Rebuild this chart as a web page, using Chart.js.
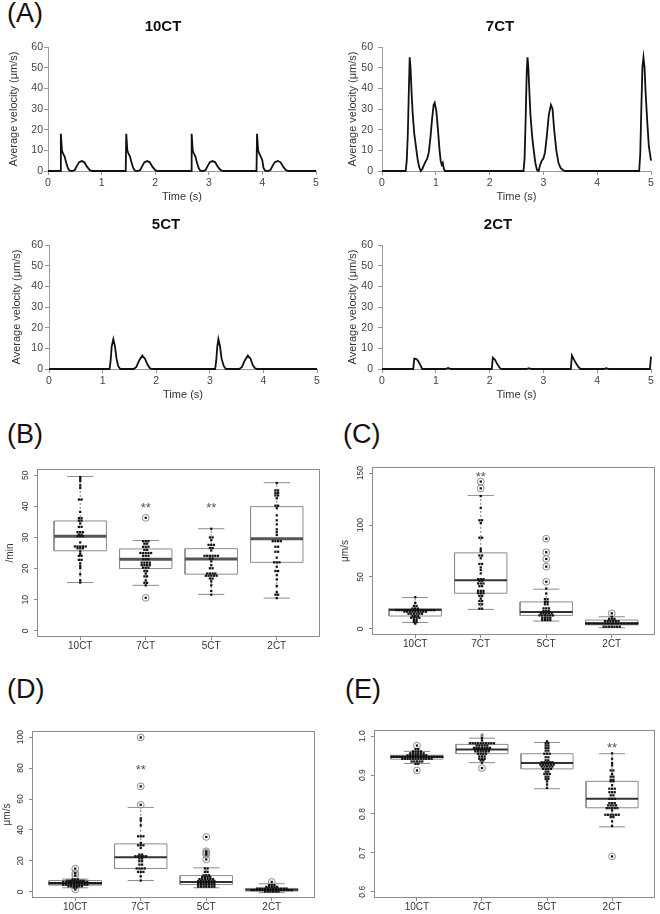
<!DOCTYPE html>
<html>
<head>
<meta charset="utf-8">
<script src="https://cdn.jsdelivr.net/npm/chart.js@4.4.1/dist/chart.umd.min.js"></script>
<style>
  body { margin: 0; background: #fff; width: 660px; height: 914px; position: relative; overflow: hidden; font-family: "Liberation Sans", Arial, sans-serif; }
  canvas { position: absolute; }
  .lab { position: absolute; font-size: 27px; line-height: 27px; color: #111; }
</style>
</head>
<body>
<div class="lab" style="left:7px;top:0px">(A)</div>
<div class="lab" style="left:7px;top:421px">(B)</div>
<div class="lab" style="left:343px;top:421px">(C)</div>
<div class="lab" style="left:7px;top:676px">(D)</div>
<div class="lab" style="left:345px;top:676px">(E)</div>

<canvas id="a1" width="330" height="195" style="left:0;top:10px"></canvas>
<canvas id="a2" width="330" height="195" style="left:330px;top:10px"></canvas>
<canvas id="a3" width="330" height="195" style="left:0;top:208px"></canvas>
<canvas id="a4" width="330" height="195" style="left:330px;top:208px"></canvas>
<canvas id="pb" width="330" height="195" style="left:0;top:460px"></canvas>
<canvas id="pc" width="330" height="193" style="left:330px;top:460px"></canvas>
<canvas id="pd" width="330" height="194" style="left:0;top:720px"></canvas>
<canvas id="pe" width="330" height="194" style="left:330px;top:720px"></canvas>

<script>
Chart.defaults.font.family = '"Liberation Sans", Arial, sans-serif';

// ---- (A) velocity traces: [time s, velocity um/s]
const trace10CT = [[0,0],[0.23,0],[0.24,18],[0.26,10],[0.28,8.5],[0.31,7],[0.34,4],[0.37,1.5],[0.40,0.2],[0.45,0],[0.50,0.5],[0.54,2.5],[0.58,4.3],[0.63,4.8],[0.68,4.2],[0.73,2],[0.78,0.4],[0.83,0],
  [1.45,0],[1.46,18],[1.48,10],[1.50,8.5],[1.53,7],[1.56,4],[1.59,1.5],[1.62,0.2],[1.67,0],[1.72,0.5],[1.76,2.5],[1.80,4.3],[1.85,4.8],[1.90,4.2],[1.95,2],[2.00,0.4],[2.05,0],
  [2.67,0],[2.68,18],[2.70,10],[2.72,8.5],[2.75,7],[2.78,4],[2.81,1.5],[2.84,0.2],[2.89,0],[2.94,0.5],[2.98,2.5],[3.02,4.3],[3.07,4.8],[3.12,4.2],[3.17,2],[3.22,0.4],[3.27,0],
  [3.89,0],[3.90,18],[3.92,10],[3.94,8.5],[3.97,7],[4.00,5],[4.02,1.5],[4.05,0.2],[4.10,0],[4.15,0.5],[4.19,2.5],[4.23,4.3],[4.29,4.9],[4.34,4.2],[4.39,2],[4.44,0.4],[4.49,0],[5,0]];
const trace7CT = [[0,0],[0.44,0],[0.46,5],[0.48,18],[0.50,40],[0.515,55],[0.53,50],[0.55,38],[0.57,28],[0.60,18],[0.63,12],[0.66,6],[0.69,2],[0.72,0],[0.75,1],[0.78,3],[0.81,4.5],[0.84,6],[0.87,9],[0.90,16],[0.93,25],[0.96,32],[0.98,33],[1.01,29],[1.04,20],[1.07,10],[1.09,5],[1.11,3],[1.13,4],[1.15,1],[1.17,0],
  [2.63,0],[2.65,6],[2.67,25],[2.69,48],[2.705,55],[2.72,50],[2.74,38],[2.76,27],[2.79,17],[2.82,10],[2.85,4],[2.88,0.5],[2.91,0],[2.94,3],[2.97,5],[3.00,6],[3.03,9],[3.06,16],[3.10,27],[3.14,32],[3.17,30],[3.20,20],[3.24,10],[3.28,4],[3.32,1.5],[3.36,0.5],[3.40,0],
  [4.78,0],[4.80,8],[4.82,30],[4.84,50],[4.86,55],[4.88,50],[4.90,38],[4.93,24],[4.96,12],[5.0,5]];
const trace5CT = [[0,0],[1.13,0],[1.15,4],[1.17,11],[1.20,14.5],[1.23,11],[1.26,5],[1.29,1.5],[1.33,0],[1.58,0],[1.63,1],[1.68,4],[1.74,6.5],[1.79,5],[1.84,2],[1.88,0.5],[1.92,0],
  [3.10,0],[3.12,4],[3.14,11],[3.16,14.5],[3.19,11],[3.22,5],[3.26,1.5],[3.30,0],[3.55,0],[3.60,1],[3.65,4],[3.71,6.5],[3.76,5],[3.80,2],[3.84,0.5],[3.88,0],[5,0]];
const trace2CT = [[0,0],[0.58,0],[0.60,5],[0.64,4.8],[0.67,4],[0.71,2],[0.75,0],[1.18,0],[1.23,0.5],[1.28,0],[2.04,0],[2.06,5.5],[2.10,4.5],[2.14,2.5],[2.19,0.5],[2.22,0],
  [2.68,0],[2.73,0.4],[2.78,0],[3.51,0],[3.53,6.5],[3.56,5],[3.60,3],[3.65,1],[3.69,0],[4.12,0],[4.17,0.4],[4.22,0],[4.98,0],[5.0,6]];

// ---- (B)-(E) groups
const groups = ['10CT', '7CT', '5CT', '2CT'];
const groupPos = [1, 2, 3, 4];

// box stats per group: [lower whisker, q1, median, q3, upper whisker]
const boxB = [[15.5,25.7,30.4,35.3,49.6],[14.6,20.0,23.0,26.3,29.0],[11.7,18.2,23.1,26.4,32.8],[10.5,22,29.6,39.9,47.6]];
const boxC = [[6.1,12.3,18,19.4,30.1],[18.7,34.3,46.9,73.2,128.6],[7.4,12.9,16.1,25.9,38.2],[1,3.8,5,8.4,11.6]];
const boxD = [[2.6,4.3,5.6,7.3,8.2],[7.3,15.1,22.4,31,54.6],[2.6,4.7,6.4,10.5,15.5],[-0.5,0.5,1.3,2.2,5.2]];
const boxE = [[0.93,0.941,0.947,0.951,0.961],[0.932,0.955,0.966,0.979,0.995],[0.865,0.916,0.931,0.955,0.984],[0.767,0.816,0.839,0.884,0.955]];

const outB = [[], [36.3, 10.6], [], []];
const outC = [[], [141.9, 135.4], [86.8, 73.8, 67.3, 59.9, 45.3], [14.9]];
const outD = [[15, 12, 10.5, 1.5], [99.8, 68.2, 56.3], [35.5, 26.2, 25.2, 24.1, 20.9], [6.4]];
const outE = [[0.976, 0.912], [0.918], [], [0.691]];

// individual observations per group: [value, number of dots at that value]
const dotsB = [
  [[49.4,1],[48.8,1],[48.1,1],[46.7,1],[45.9,1],[42.2,2],[38.2,1],[36.2,2],[35.4,2],[34.5,1],[33.4,2],[31.7,3],[30.9,2],[30.4,3],[28.4,1],[27.1,5],[26.5,3],[25.5,1],[24.7,1],[24.1,2],[22.8,2],[21.7,1],[20.8,1],[20.1,1],[18.2,1],[16.2,1],[15.5,1]],
  [[36.3,1],[28.8,3],[28,2],[27,3],[26,2],[25,5],[24.1,3],[23,3],[21.9,4],[21.1,4],[20.3,3],[19.2,2],[18.4,1],[17.5,2],[16.2,1],[15.4,2],[14.6,1],[10.6,1]],
  [[32.8,1],[30,2],[29.1,1],[27.6,3],[26.6,2],[25.8,1],[24.1,6],[23.2,2],[22.3,1],[21.1,1],[20.1,2],[18.4,4],[17.7,5],[16.8,2],[15.9,1],[14.6,1],[12.8,1],[11.6,1]],
  [[47.5,1],[45.1,2],[44.3,2],[43.5,2],[42.6,1],[40.2,2],[39.4,1],[37.1,1],[35.5,1],[34.2,1],[32.6,1],[31.7,1],[30.8,1],[28.8,4],[27,2],[25.4,2],[23.5,1],[22,3],[20.6,1],[19.2,2],[17.9,1],[16.5,1],[14.4,1],[12.4,1],[11.6,2],[10.5,1]]
];
const dotsC = [
  [[30.5,1],[25,1],[22,2],[19.5,3],[18,15],[16.5,9],[14.5,6],[12.3,3],[10.6,4],[8.4,2],[6.4,2],[5,1]],
  [[141.9,1],[135.4,1],[128,1],[116.6,1],[104.6,2],[102,1],[87.8,2],[77.1,1],[74.8,1],[70.6,2],[68,1],[62.5,2],[59.2,1],[56.7,1],[53.4,1],[47.9,3],[46.3,2],[43.7,3],[41.1,2],[36.6,3],[34.3,3],[31.7,2],[29.1,1],[26.8,2],[23.6,2],[19.4,2]],
  [[86.8,1],[73.8,1],[67.3,1],[59.9,1],[45.3,1],[38.8,1],[33.9,1],[28.5,2],[25.9,2],[23.6,2],[19.7,3],[17.1,3],[14.9,5],[12.9,6],[10.6,4],[8.4,4]],
  [[14.9,1],[11.6,1],[9.6,3],[7.4,6],[5.2,20],[2,7]]
];
const dotsD = [
  [[15,1],[12,1],[10.5,1],[8,3],[7.2,7],[6.4,10],[5.6,20],[4.6,10],[3.6,6],[2.8,2],[1.5,1]],
  [[99.8,1],[68.2,1],[56.3,1],[47.5,1],[46,1],[43,1],[35.9,3],[31.6,1],[30.1,3],[28.4,1],[24.1,2],[23,5],[21.5,2],[19.8,2],[17.6,2],[15.1,4],[12.9,3],[10.1,1],[7.3,1]],
  [[35.5,1],[26.2,1],[25.2,1],[24.1,1],[20.9,1],[15.1,2],[12.9,2],[10.7,3],[9.5,4],[8.2,6],[7,7],[5.8,7],[4.6,7],[3.3,7]],
  [[6.4,1],[4.3,3],[3.2,5],[2.1,12],[1.1,16],[0.2,6]]
];
const dotsE = [
  [[0.976,1],[0.967,2],[0.961,4],[0.956,6],[0.951,8],[0.947,20],[0.942,12],[0.935,5],[0.929,2],[0.912,1]],
  [[0.995,1],[0.989,1],[0.982,10],[0.976,5],[0.970,7],[0.966,6],[0.961,6],[0.955,4],[0.948,3],[0.942,3],[0.938,2],[0.932,1],[0.918,1]],
  [[0.987,1],[0.982,2],[0.976,2],[0.970,2],[0.963,2],[0.955,3],[0.946,2],[0.938,2],[0.933,5],[0.927,6],[0.922,5],[0.916,4],[0.909,2],[0.903,3],[0.896,2],[0.890,2],[0.884,1],[0.876,1],[0.867,1]],
  [[0.956,1],[0.942,1],[0.931,1],[0.925,1],[0.912,2],[0.903,1],[0.896,2],[0.888,2],[0.884,2],[0.874,1],[0.865,3],[0.856,3],[0.848,2],[0.839,3],[0.828,3],[0.822,4],[0.815,5],[0.809,1],[0.798,6],[0.792,2],[0.781,1],[0.769,1],[0.691,1]]
];

// significance marks and where they sit
const starsB = ['', '**', '**', ''];
const starYB = [null, 40.7, 40.7, null];
const starsC = ['', '**', '', ''];
const starYC = [null, 150, null, null];
const starsD = ['', '**', '', ''];
const starYD = [null, 81, null, null];
const starsE = ['', '*', '', '**'];
const starYE = [null, 1.005, null, 0.98];

const yTicksB = [0, 10, 20, 30, 40, 50];
const yTicksC = [0, 50, 100, 150];
const yTicksD = [0, 20, 40, 60, 80, 100];
const yTicksE = [0.6, 0.7, 0.8, 0.9, 1.0];
const yLabelsE = ['0.6', '0.7', '0.8', '0.9', '1.0'];

// ---------- (A) line charts
function traceChart(id, title, trace, o) {
  new Chart(document.getElementById(id), {
    type: 'scatter',
    data: {
      datasets: [{
        data: trace.map(p => ({x: p[0], y: p[1]})),
        showLine: true,
        borderColor: '#111',
        borderWidth: 1.8,
        pointRadius: 0,
        clip: 4
      }]
    },
    options: {
      responsive: false,
      animation: false,
      layout: {padding: {left: o.padL, right: o.padR, top: 0, bottom: 0}},
      plugins: {
        legend: {display: false},
        tooltip: {enabled: false},
        title: {display: true, text: title, color: '#111', font: {size: 15, weight: 'bold'}, padding: {top: 8, bottom: 11}}
      },
      scales: {
        x: {
          type: 'linear', min: 0, max: 5,
          ticks: {stepSize: 1, color: '#444', font: {size: 10.5}, padding: 2},
          grid: {drawOnChartArea: false, tickLength: 4, color: '#999'},
          border: {color: '#999'},
          title: {display: true, text: 'Time (s)', color: '#333', font: {size: 11}, padding: {top: 0, bottom: 1}},
          afterFit: s => { s.height = 34; }
        },
        y: {
          min: 0, max: 60,
          ticks: {stepSize: 10, color: '#444', font: {size: 10.5}, padding: o.tickPad},
          grid: {drawOnChartArea: false, tickLength: 4, color: '#999'},
          border: {color: '#999'},
          title: {display: true, text: 'Average velocity (μm/s)', color: '#333', font: {size: 11}, padding: {top: o.titlePad, bottom: 0}},
          afterFit: s => { s.width = o.yWidth; }
        }
      }
    }
  });
}

traceChart('a1', '10CT', trace10CT, {padL: 10, padR: 14, yWidth: 38, tickPad: 1, titlePad: -3});
traceChart('a2', '7CT', trace7CT, {padL: 19, padR: 9, yWidth: 33, tickPad: 5, titlePad: -3});
traceChart('a3', '5CT', trace5CT, {padL: 15, padR: 13, yWidth: 34, tickPad: 2, titlePad: -5});
traceChart('a4', '2CT', trace2CT, {padL: 15, padR: 9, yWidth: 37, tickPad: 5, titlePad: 1});

// ---------- (B)-(E) box plots with beeswarm dots
const framePlugin = {
  id: 'frame',
  beforeDatasetsDraw(chart) {
    const a = chart.chartArea, ctx = chart.ctx;
    ctx.save();
    ctx.strokeStyle = '#8c8c8c';
    ctx.lineWidth = 1;
    ctx.strokeRect(a.left + 0.5, a.top + 0.5, a.right - a.left - 1, a.bottom - a.top - 1);
    ctx.restore();
  }
};

const starPlugin = {
  id: 'stars',
  afterDatasetsDraw(chart, args, opts) {
    const {ctx, scales} = chart;
    ctx.save();
    ctx.fillStyle = '#555';
    ctx.font = '13px "Liberation Sans", Arial, sans-serif';
    ctx.textAlign = 'center';
    ctx.textBaseline = 'alphabetic';
    opts.marks.forEach((m, g) => {
      if (!m) return;
      ctx.fillText(m, scales.x.getPixelForValue(groupPos[g]), scales.y.getPixelForValue(opts.at[g]) + 7.5);
    });
    ctx.restore();
  }
};

function boxChart(id, c) {
  const dots = [], boxes = [], meds = [], whisk = [], staples = [], outs = [];
  c.dots.forEach((rows, g) => rows.forEach(([v, n]) => {
    for (let k = 0; k < n; k++) dots.push({x: groupPos[g] + (k - (n - 1) / 2) * 0.041, y: v});
  }));
  c.box.forEach(([lo, q1, md, q3, hi], g) => {
    const p = groupPos[g];
    boxes.push({x: p - 0.4, y: q1}, {x: p + 0.4, y: q1}, {x: p + 0.4, y: q3}, {x: p - 0.4, y: q3}, {x: p - 0.4, y: q1}, {x: p, y: null});
    meds.push({x: p - 0.4, y: md}, {x: p + 0.4, y: md}, {x: p, y: null});
    whisk.push({x: p, y: q3}, {x: p, y: hi}, {x: p, y: null}, {x: p, y: q1}, {x: p, y: lo}, {x: p, y: null});
    staples.push({x: p - 0.2, y: hi}, {x: p + 0.2, y: hi}, {x: p, y: null}, {x: p - 0.2, y: lo}, {x: p + 0.2, y: lo}, {x: p, y: null});
  });
  c.out.forEach((vals, g) => vals.forEach(v => outs.push({x: groupPos[g], y: v})));

  new Chart(document.getElementById(id), {
    type: 'scatter',
    data: {
      datasets: [
        {data: dots, pointStyle: 'rect', pointRadius: 1.6, backgroundColor: '#111', borderWidth: 0},
        {data: outs, pointStyle: 'circle', pointRadius: 3.4, borderColor: '#8a8a8a', borderWidth: 1, backgroundColor: 'rgba(0,0,0,0)'},
        {data: meds, showLine: true, pointRadius: 0, borderColor: c.medColor, borderWidth: c.medWidth, spanGaps: false},
        {data: boxes, showLine: true, pointRadius: 0, borderColor: '#8c8c8c', borderWidth: 1, spanGaps: false},
        {data: staples, showLine: true, pointRadius: 0, borderColor: '#8c8c8c', borderWidth: 1, spanGaps: false},
        {data: whisk, showLine: true, pointRadius: 0, borderColor: '#777', borderWidth: 1, borderDash: [2, 2], spanGaps: false}
      ]
    },
    options: {
      responsive: false,
      animation: false,
      layout: {padding: {left: 0, right: c.padR, top: c.padT, bottom: 0}},
      plugins: {
        legend: {display: false},
        tooltip: {enabled: false},
        stars: {marks: c.stars, at: c.starY}
      },
      scales: {
        x: {
          type: 'linear', min: 0.34, max: 4.66,
          afterBuildTicks: s => { s.ticks = groupPos.map(v => ({value: v})); },
          ticks: {callback: (v, i) => groups[i], color: '#333', font: {size: 10}, padding: 0, maxRotation: 0, autoSkip: false},
          grid: {drawOnChartArea: false, tickLength: 3, color: '#888'},
          border: {display: false},
          afterFit: s => { s.height = c.xHeight; }
        },
        y: {
          type: 'linear', min: c.yMin, max: c.yMax,
          afterBuildTicks: s => { s.ticks = c.yTicks.map(v => ({value: v})); },
          ticks: {
            callback: (v, i) => c.yLabels ? c.yLabels[i] : String(c.yTicks[i]),
            minRotation: 90, maxRotation: 90, crossAlign: 'center',
            color: '#333', font: {size: 8.5}, padding: c.tickPad
          },
          grid: {drawOnChartArea: false, tickLength: 3, color: '#888'},
          border: {display: false},
          title: {display: !!c.yTitle, text: c.yTitle || '', color: '#333', font: {size: 10}, padding: {top: c.titlePad, bottom: 0}},
          afterFit: s => { s.width = c.yWidth; }
        }
      }
    },
    plugins: [framePlugin, starPlugin]
  });
}

boxChart('pb', {dots: dotsB, box: boxB, out: outB, stars: starsB, starY: starYB, yTicks: yTicksB,
  yMin: -2, yMax: 52, yTitle: '/min', yWidth: 37, padR: 10, padT: 9, xHeight: 18, tickPad: 3.3, titlePad: 4, medColor: '#555', medWidth: 3});
boxChart('pc', {dots: dotsC, box: boxC, out: outC, stars: starsC, starY: starYC, yTicks: yTicksC,
  yMin: -6, yMax: 156, yTitle: 'μm/s', yWidth: 42, padR: 3, padT: 7, xHeight: 18, tickPad: 0.9, titlePad: 9, medColor: '#333', medWidth: 2});
boxChart('pd', {dots: dotsD, box: boxD, out: outD, stars: starsD, starY: starYD, yTicks: yTicksD,
  yMin: -4, yMax: 104, yTitle: 'μm/s', yWidth: 32, padR: 15, padT: 11, xHeight: 16, tickPad: 0.9, titlePad: 1, medColor: '#333', medWidth: 2});
boxChart('pe', {dots: dotsE, box: boxE, out: outE, stars: starsE, starY: starYE, yTicks: yTicksE, yLabels: yLabelsE,
  yMin: 0.584, yMax: 1.016, yTitle: '', yWidth: 44, padR: 2, padT: 10, xHeight: 16, tickPad: 2.1, titlePad: 0, medColor: '#333', medWidth: 2});
</script>
</body>
</html>
